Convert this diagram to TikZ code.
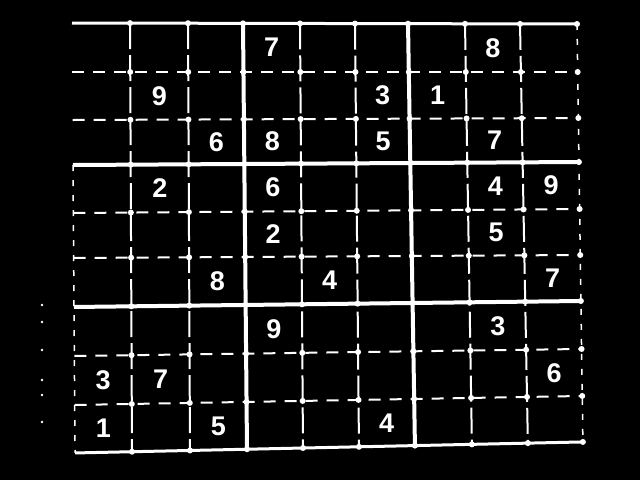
\documentclass[tikz,border=0pt]{standalone}
\usepackage{fontspec}
\setmainfont{Liberation Sans}
\usetikzlibrary{calc}
\begin{document}
\begin{tikzpicture}[x=1pt,y=-1pt,
  thinv/.style={white,line width=2pt,dash pattern=on 26pt off 6pt},
  thinh/.style={white,line width=2pt,dash pattern=on 12pt off 9pt},
  thickline/.style={white,line width=4pt},
  border/.style={white,line width=3pt},
  sideborder/.style={white,line width=1.5pt,dash pattern=on 6pt off 9pt},
  gdot/.style={white},
  digit/.style={white,font=\fontsize{27}{27}\selectfont\bfseries,inner sep=0pt}]
\fill[black] (0,0) rectangle (640,480);
\useasboundingbox (0,0) rectangle (640,480);
\def\XT{{72,130,188,243,300,355,408,465,520,577}}
\def\XB{{75,132,190,247,303,359,415,472,528,583}}
\def\YL{{23,72,120,165,213,258,307,356,405,453}}
\def\YR{{24,72,118,162,209,255,301,349,396,442}}
\foreach \i in {0,...,9}{
  \foreach \j in {0,...,9}{
    \pgfmathsetmacro{\xt}{\XT[\i]}
    \pgfmathsetmacro{\xb}{\XB[\i]}
    \pgfmathsetmacro{\yl}{\YL[\j]}
    \pgfmathsetmacro{\yr}{\YR[\j]}
    \pgfmathsetmacro{\px}{\xt+(\xb-\xt)*(\yl-23)/427}
    \pgfmathsetmacro{\py}{\yl+(\yr-\yl)*(\px-73)/507}
    \pgfmathsetmacro{\px}{\xt+(\xb-\xt)*(\py-23)/427}
    \pgfmathsetmacro{\py}{\yl+(\yr-\yl)*(\px-73)/507}
    \coordinate (P\i-\j) at (\px,\py);
  }
}
% thin lines
\foreach \k in {1,2,4,5,7,8}{
  \draw[thinh] (P0-\k) -- (P9-\k);
  \draw[thinv] (P\k-0) -- (P\k-9);
}
% thick lines
\foreach \k in {3,6}{
  \draw[thickline] (P0-\k) -- (P9-\k);
  \draw[thickline] (P\k-0) -- (P\k-9);
}
\draw[border] (P0-0) -- (P9-0);
\draw[border] (P0-9) -- (P9-9);
\draw[sideborder] (P0-3) -- (P0-9);
\draw[sideborder] (P9-0) -- (P9-9);
% dots at intersections
\foreach \i in {1,...,9}{
  \foreach \j in {0,...,9}{
    \fill[gdot] (P\i-\j) circle (3pt);
  }
}
% specks at the far left
\foreach \y in {305,322,350,380,395,422}{
  \fill[white] (42,\y) circle (1.3pt);
}
% digits: row/column/value
\foreach \r/\c/\d in {1/4/7,1/8/8,
  2/2/9,2/6/3,2/7/1,
  3/3/6,3/4/8,3/6/5,3/8/7,
  4/2/2,4/4/6,4/8/4,4/9/9,
  5/4/2,5/8/5,
  6/3/8,6/5/4,6/9/7,
  7/4/9,7/8/3,
  8/1/3,8/2/7,8/9/6,
  9/1/1,9/3/5,9/6/4}{
  \pgfmathtruncatemacro{\ci}{\c-1}
  \pgfmathtruncatemacro{\ri}{\r-1}
  \node[digit] (d\r-\c) at ($(P\ci-\ri)!0.5!(P\c-\r)$) {\d};
}
\end{tikzpicture}
\end{document}
